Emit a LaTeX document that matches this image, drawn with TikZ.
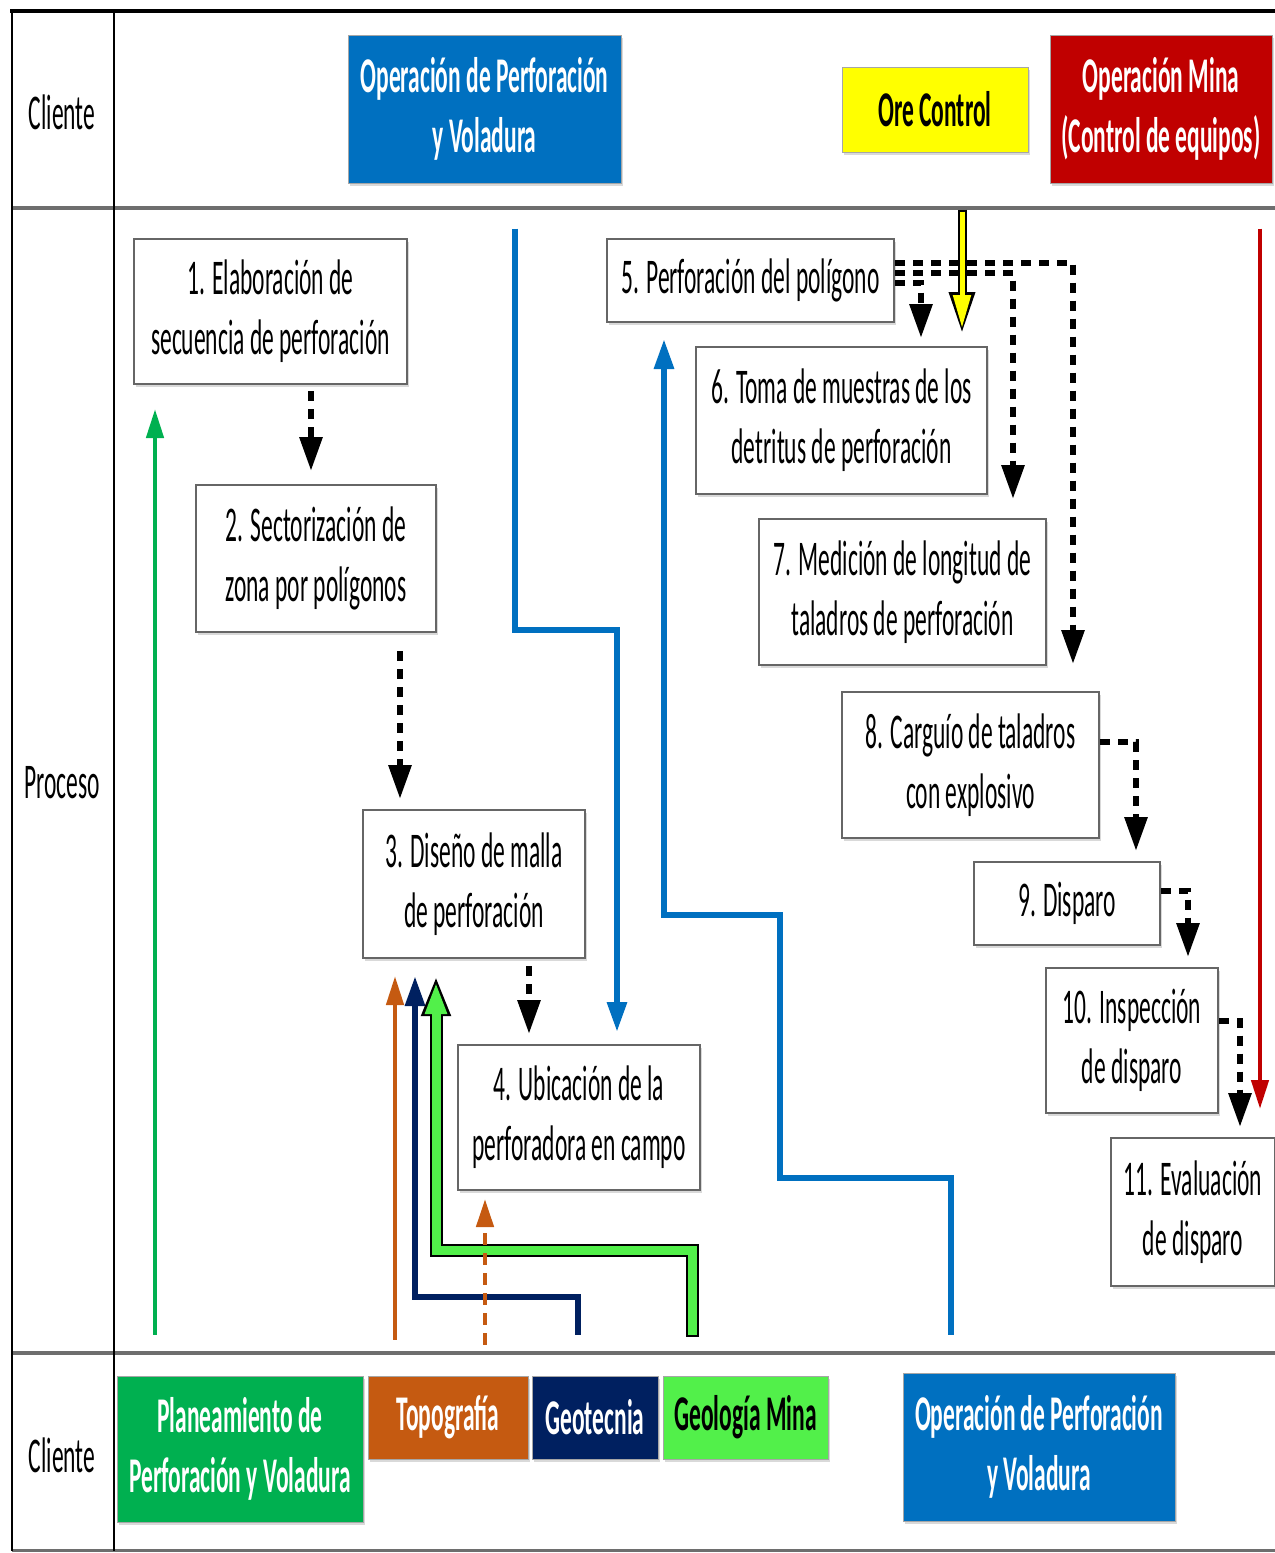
\documentclass[tikz,border=0pt]{standalone}
\usepackage{fontspec}
\setmainfont{Carlito}[FakeStretch=0.47]
\usetikzlibrary{arrows.meta,shadows}
\newdimen\pxu \pxu=0.02cm
\definecolor{opblue}{HTML}{0070C0}
\definecolor{minared}{HTML}{C00000}
\definecolor{plangreen}{HTML}{00B050}
\definecolor{topoorange}{HTML}{C55A11}
\definecolor{geotnavy}{HTML}{002060}
\definecolor{geolgreen}{HTML}{52F04A}
\definecolor{oreyellow}{HTML}{FFFF00}
\definecolor{framegray}{HTML}{6E6E6E}
\tikzset{
  txt/.style={font=\fontsize{28.45}{34.1}\selectfont, align=center, inner sep=0pt},
  sz/.style 2 args={minimum width=#1\pxu, minimum height=#2\pxu},
  pbox/.style={txt, draw=gray!80!black, line width=2\pxu, fill=white,
    drop shadow={shadow xshift=2\pxu, shadow yshift=-3\pxu, opacity=0.3}},
  cbox/.style={txt, font=\fontsize{28.45}{34.1}\selectfont\bfseries, text=white,
    draw=black!35, line width=1\pxu,
    drop shadow={shadow xshift=2\pxu, shadow yshift=-3\pxu, opacity=0.3}},
  blkarrow/.style={black, line width=6\pxu, dash pattern=on 10\pxu off 8\pxu,
    -{Triangle[width=0.44cm,length=0.68cm]}},
  bluearrow/.style={opblue, line width=6\pxu, -{Triangle[width=0.38cm,length=0.6cm]}},
  thinarrow/.style={line width=4.5\pxu, -{Triangle[width=0.34cm,length=0.58cm]}},
  lanelabel/.style={txt}
}
\begin{document}
\begin{tikzpicture}[x=0.02cm,y=-0.02cm]
\useasboundingbox (0,0) rectangle (1275,1553);

% swimlane frame
\draw[framegray, line width=4\pxu] (12,208) -- (1275,208);
\draw[framegray, line width=4\pxu] (12,1353) -- (1275,1353);
\draw[framegray, line width=3\pxu] (12,1550) -- (1275,1550);
\draw[black, line width=2.5\pxu] (12,11) -- (12,1551);
\draw[black, line width=2\pxu] (114,11) -- (114,1551);
\draw[black, line width=4.5\pxu] (10,11) -- (1275,11);

% lane labels
\node[lanelabel] (lc1) at (62,112) {Cliente};
\node[lanelabel] (lpr) at (62,783) {Proceso};
\node[lanelabel] (lc2) at (62,1455) {Cliente};

% top clients
\node[cbox, sz={273}{148}, fill=opblue] (opTop) at (484.5,109) {Operación de Perforación\\y Voladura};
\node[cbox, sz={186}{85}, fill=oreyellow, text=black] (ore) at (935,109.5) {Ore Control};
\node[cbox, sz={222}{148}, fill=minared] (mina) at (1161,109) {Operación Mina\\(Control de equipos)};

% bottom clients
\node[cbox, sz={246}{146}, fill=plangreen] (plan) at (240,1449) {Planeamiento de\\Perforación y Voladura};
\node[cbox, sz={160}{83}, fill=topoorange] (topo) at (448,1417.5) {Topografía};
\node[cbox, sz={126}{83}, fill=geotnavy] (geot) at (595,1417.5) {Geotecnia};
\node[cbox, sz={165}{83}, fill=geolgreen, text=black] (geol) at (745.5,1417.5) {Geología Mina};
\node[cbox, sz={272}{148}, fill=opblue] (opBot) at (1039,1447) {Operación de Perforación\\y Voladura};

% process boxes
\node[pbox, sz={273}{145}] (b1) at (270.5,311.5) {1. Elaboración de\\secuencia de perforación};
\node[pbox, sz={240}{147}] (b2) at (316,558.5) {2. Sectorización de\\zona por polígonos};
\node[pbox, sz={222}{148}] (b3) at (474,884) {3. Diseño de malla\\de perforación};
\node[pbox, sz={242}{145}] (b4) at (579,1117.5) {4. Ubicación de la\\perforadora en campo};
\node[pbox, sz={287}{83}] (b5) at (750.5,280.5) {5. Perforación del polígono};
\node[pbox, sz={291}{147}] (b6) at (841.5,420.5) {6. Toma de muestras de los\\detritus de perforación};
\node[pbox, sz={287}{146}] (b7) at (902.5,592) {7. Medición de longitud de\\taladros de perforación};
\node[pbox, sz={257}{146}] (b8) at (970.5,765) {8. Carguío de taladros\\con explosivo};
\node[pbox, sz={186}{83}] (b9) at (1067,903.5) {9. Disparo};
\node[pbox, sz={172}{145}] (b10) at (1132,1040.5) {10. Inspección\\de disparo};
\node[pbox, sz={164}{148}] (b11) at (1193,1212) {11. Evaluación\\de disparo};

% x positions of connector runs
\coordinate (x12) at (311,0);
\coordinate (x23) at (400,0);
\coordinate (x34) at (529,0);
\coordinate (x56) at (921,0);
\coordinate (x57) at (1013,0);
\coordinate (x58) at (1073,0);
\coordinate (x89) at (1136,0);
\coordinate (x910) at (1188,0);
\coordinate (x1011) at (1240,0);

% black dashed flow
\draw[blkarrow, shorten <=6\pxu, shorten >=13\pxu] (b1.south -| x12) -- (b2.north -| x12);
\draw[blkarrow, shorten <=18\pxu, shorten >=10\pxu] (b2.south -| x23) -- (b3.north -| x23);
\draw[blkarrow, shorten <=7\pxu, shorten >=10\pxu] (b3.south -| x34) -- (b4.north -| x34);
\draw[blkarrow, shorten >=27\pxu] ([yshift=18\pxu]b5.east) -| (b8.north -| x58);
\draw[blkarrow, shorten >=19\pxu] ([yshift=8\pxu]b5.east) -| (b7.north -| x57);
\draw[blkarrow, shorten >=8\pxu] ([yshift=-2\pxu]b5.east) -| (b6.north -| x56);
\draw[blkarrow, shorten >=10\pxu] ([yshift=23\pxu]b8.east) -| (b9.north -| x89);
\draw[blkarrow, shorten >=10\pxu] ([yshift=13\pxu]b9.east) -| (b10.north -| x910);
\draw[blkarrow, shorten >=10\pxu] ([yshift=20\pxu]b10.east) -| (b11.north -| x1011);

% Ore Control -> 6 (outlined yellow)
\coordinate (yx) at (962,0);
\draw[black, line width=9\pxu, shorten <=57\pxu, shorten >=12\pxu,
  -{Triangle[width=0.48cm,length=0.84cm]}] (ore.south -| yx) -- (b6.north -| yx);
\draw[oreyellow, line width=5\pxu, shorten <=59\pxu, shorten >=18\pxu,
  -{Triangle[width=0.34cm,length=0.66cm]}] (ore.south -| yx) -- (b6.north -| yx);

% Operacion Mina -> 11
\coordinate (rx) at (1260,0);
\draw[thinarrow, minared, shorten <=45\pxu, shorten >=28\pxu] (mina.south -| rx) -- (b11.north -| rx);

% Operacion (top) -> 4
\coordinate (bt1) at (515,630);
\coordinate (bt2) at (617,630);
\draw[bluearrow, shorten <=45\pxu, shorten >=12\pxu] (opTop.south -| bt1) -- (bt1) -- (bt2) -- (b4.north -| bt2);

% Operacion (bottom) -> 5
\coordinate (bb1) at (951,1178);
\coordinate (bb2) at (780,1178);
\coordinate (bb3) at (780,915);
\coordinate (bb4) at (664,915);
\draw[bluearrow, shorten <=38\pxu, shorten >=16\pxu] (opBot.north -| bb1) -- (bb1) -- (bb2) -- (bb3) -- (bb4) -- (b5.south -| bb4);

% Planeamiento -> 1
\coordinate (gx) at (155,0);
\draw[thinarrow, plangreen, shorten <=41\pxu, shorten >=24\pxu] (plan.north -| gx) -- (b1.south -| gx);

% Topografia -> 3
\coordinate (ox) at (395,0);
\draw[thinarrow, topoorange, shorten <=36\pxu, shorten >=17\pxu] (topo.north -| ox) -- (b3.south -| ox);

% Geotecnia -> 3
\coordinate (nv1) at (578,1297);
\coordinate (nv2) at (415,1297);
\draw[bluearrow, geotnavy, shorten <=41\pxu, shorten >=17\pxu] (geot.north -| nv1) -- (nv1) -- (nv2) -- (b3.south -| nv2);

% Geologia Mina -> 3 (outlined green)
\coordinate (gl1) at (692,1250);
\coordinate (gl2) at (436,1250);
\draw[black, line width=13\pxu, shorten <=39\pxu, shorten >=17\pxu,
  -{Triangle[width=0.54cm,length=0.8cm]}] (geol.north -| gl1) -- (gl1) -- (gl2) -- (b3.south -| gl2);
\draw[geolgreen, line width=9\pxu, shorten <=41\pxu, shorten >=23\pxu,
  -{Triangle[width=0.40cm,length=0.64cm]}] (geol.north -| gl1) -- (gl1) -- (gl2) -- (b3.south -| gl2);

% Topografia -> 4 (dashed)
\coordinate (odx) at (485,0);
\draw[topoorange, line width=4.5\pxu, dash pattern=on 12\pxu off 8\pxu, shorten <=31\pxu, shorten >=8\pxu,
  -{Triangle[width=0.34cm,length=0.56cm]}] (topo.north -| odx) -- (b4.south -| odx);
\end{tikzpicture}
\end{document}
